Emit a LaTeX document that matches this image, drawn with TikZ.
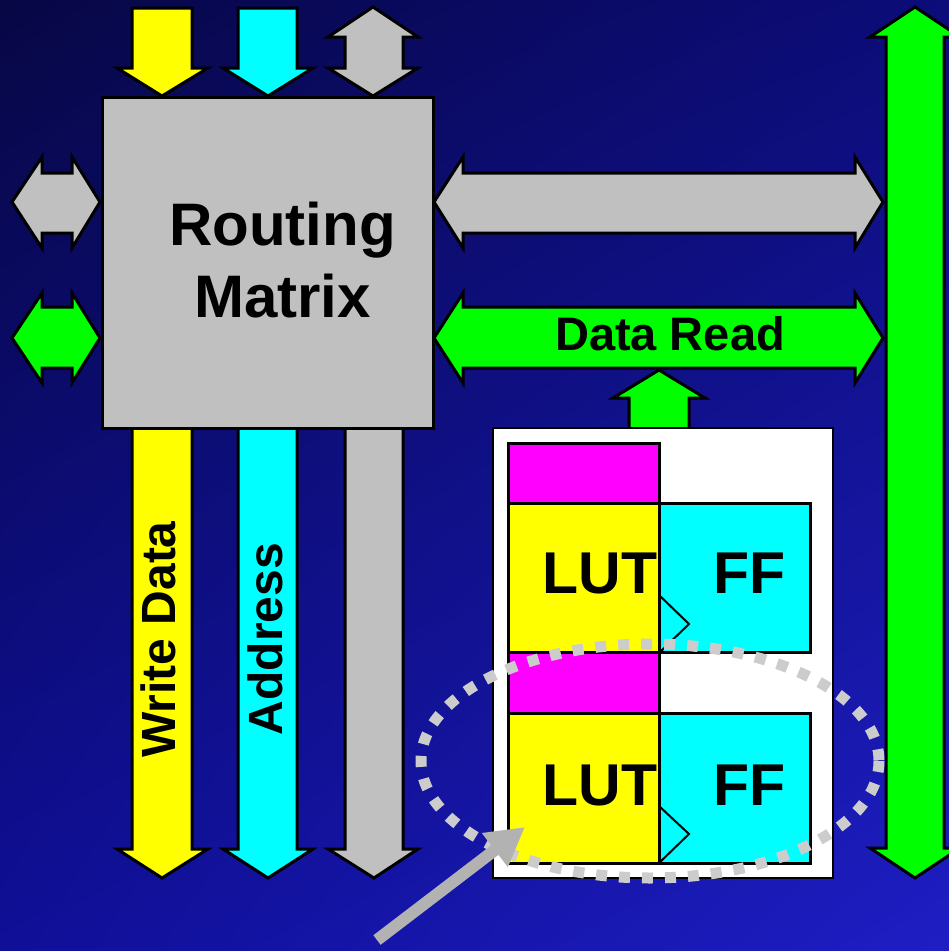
\documentclass[tikz,border=0pt]{standalone}
\usepackage{fontspec}
\setmainfont{Liberation Sans}
\usetikzlibrary{arrows.meta,shadings}
\definecolor{bgUL}{HTML}{070745}
\definecolor{bgUR}{HTML}{0C0C7A}
\definecolor{bgLL}{HTML}{0F0F98}
\definecolor{bgLR}{HTML}{1E1EC4}
\definecolor{silver}{HTML}{C0C0C0}
\definecolor{dotgray}{HTML}{CCCCCC}
\definecolor{ptrgray}{HTML}{B2B2B2}
\definecolor{ylw}{HTML}{FFFF00}
\definecolor{cyn}{HTML}{00FFFF}
\definecolor{mgt}{HTML}{FF00FF}
\definecolor{grn}{HTML}{00FF00}
\tikzset{
  blk/.style={draw=black, line width=3pt, line join=miter},
  boxnode/.style={draw=black, line width=3pt, inner sep=0pt, outer sep=0pt},
  txt/.style={inner sep=0pt, anchor=base, font=\bfseries},
}
\begin{document}
\begin{tikzpicture}[x=1pt,y=-1pt]
\useasboundingbox (0,0) rectangle (949,951);
\shade[upper left=bgUL, upper right=bgUR, lower left=bgLL, lower right=bgLR] (0,0) rectangle (949,951);

% top arrows into routing matrix
\path[blk, fill=ylw] (132,8)--(192,8)--(192,68)--(208,68)--(162,96)--(117,68)--(132,68)--cycle;
\path[blk, fill=cyn] (238,8)--(297,8)--(297,68)--(313,68)--(268,96)--(223,68)--(238,68)--cycle;
\path[blk, fill=silver] (373,7)--(418,37)--(403,37)--(403,68)--(418,68)--(373,96)--(328,68)--(345,68)--(345,37)--(328,37)--cycle;

% left double arrows
\path[blk, fill=silver] (12,202)--(42,157)--(42,173)--(72,173)--(72,157)--(100,202)--(72,248)--(72,233)--(42,233)--(42,248)--cycle;
\path[blk, fill=grn] (12,338)--(42,293)--(42,307)--(72,307)--(72,293)--(100,338)--(72,383)--(72,368)--(42,368)--(42,383)--cycle;

% right double arrows
\path[blk, fill=silver] (434,202)--(463,157)--(463,173)--(855,173)--(855,157)--(883,202)--(855,248)--(855,233)--(463,233)--(463,248)--cycle;
\path[blk, fill=grn] (434,338)--(463,293)--(463,307)--(855,307)--(855,293)--(883,338)--(855,383)--(855,368)--(463,368)--(463,383)--cycle;

% right vertical green bus
\path[blk, fill=grn] (915,7)--(960,37)--(944,37)--(944,848)--(960,848)--(915,878)--(870,848)--(886,848)--(886,37)--(870,37)--cycle;

% bottom buses
\path[blk, fill=ylw] (132,420)--(192,420)--(192,849)--(208,849)--(162,878)--(117,849)--(132,849)--cycle;
\path[blk, fill=cyn] (238,420)--(297,420)--(297,849)--(313,849)--(268,878)--(223,849)--(238,849)--cycle;
\path[blk, fill=silver] (345,420)--(403,420)--(403,849)--(418,849)--(374,878)--(328,849)--(345,849)--cycle;

% small up arrow to data read
\path[blk, fill=grn] (659,370)--(705,398)--(689,398)--(689,432)--(629,432)--(629,398)--(613,398)--cycle;

% routing matrix
\node[boxnode, fill=silver, minimum width=331pt, minimum height=331pt] (rm) at (267.5,262.5) {};
\node[txt, font=\bfseries\fontsize{60}{72}\selectfont] (rm1) at (282.5,245) {Routing};
\node[txt, font=\bfseries\fontsize{60}{72}\selectfont] (rm2) at (282.5,317) {Matrix};

% bus labels
\node[txt, rotate=90, font=\bfseries\fontsize{48}{58}\selectfont] (wd) at (175,639.5) {Write Data};
\node[txt, rotate=90, font=\bfseries\fontsize{48}{58}\selectfont] (ad) at (282,639) {Address};
\node[txt, font=\bfseries\fontsize{47}{56}\selectfont] (dr) at (670,350) {Data Read};

% CLB
\node[boxnode, line width=2.5pt, fill=white, minimum width=340pt, minimum height=450pt] (clb) at (663,653) {};
\node[boxnode, fill=mgt, minimum width=151pt, minimum height=60pt] (m1) at (583.5,473) {};
\node[boxnode, fill=ylw, minimum width=151pt, minimum height=149pt] (lut1) at (583.5,577.5) {};
\node[boxnode, fill=cyn, minimum width=151pt, minimum height=149pt] (ff1) at (734.5,577.5) {};
\node[boxnode, fill=mgt, minimum width=151pt, minimum height=61pt] (m2) at (583.5,682.5) {};
\node[boxnode, fill=ylw, minimum width=151pt, minimum height=150pt] (lut2) at (583.5,788) {};
\node[boxnode, fill=cyn, minimum width=151pt, minimum height=150pt] (ff2) at (734.5,788) {};
\draw[line width=2pt] (659,595)--(689,624)--(659,653);
\draw[line width=2pt] (659,806)--(689,834)--(659,863);
\node[txt, font=\bfseries\fontsize{59}{70}\selectfont] (lut1t) at (600,593) {LUT};
\node[txt, font=\bfseries\fontsize{59}{70}\selectfont] (ff1t) at (749.5,593) {FF};
\node[txt, font=\bfseries\fontsize{59}{70}\selectfont] (lut2t) at (600,805) {LUT};
\node[txt, font=\bfseries\fontsize{59}{70}\selectfont] (ff2t) at (749.5,805) {FF};

% dotted highlight ellipse
\draw[dotgray, line width=11pt, dash pattern=on 11pt off 12pt] (650,761) ellipse [x radius=229, y radius=117];

% pointer arrow
\coordinate (ptail) at (377,940);
\coordinate (ptip) at (525,827);
\draw[ptrgray, line width=12pt, -{Triangle[length=38pt,width=40pt]}] (ptail) -- (ptip);
\end{tikzpicture}
\end{document}
